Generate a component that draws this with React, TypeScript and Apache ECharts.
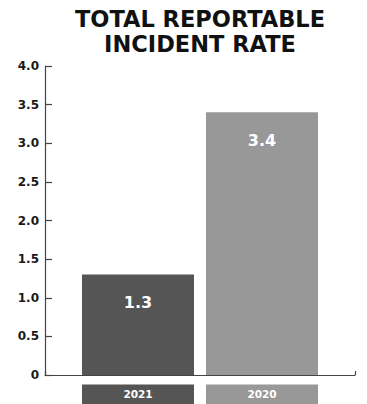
import React, { useEffect, useRef } from "react";
import * as echarts from "echarts";

const titleLines = ["TOTAL REPORTABLE", "INCIDENT RATE"];
const categories = ["2021", "2020"];
const values = [1.3, 3.4];
const barColors = ["#555555", "#989898"];
const yTicks = [0, 0.5, 1.0, 1.5, 2.0, 2.5, 3.0, 3.5, 4.0];

const FONT = "'DejaVu Sans', sans-serif";

export default function App() {
  const ref = useRef<HTMLDivElement>(null);
  useEffect(() => {
    if (!ref.current) return;
    const chart = echarts.init(ref.current, undefined, { renderer: "svg" });
    const yMin = yTicks[0];
    const yMax = yTicks[yTicks.length - 1];
    const yInterval = yTicks[1] - yTicks[0];
    chart.setOption({
      animation: false,
      backgroundColor: "#ffffff",
      graphic: [
        {
          type: "text",
          x: 200,
          y: 6,
          style: {
            text: titleLines.join("\n"),
            textAlign: "center",
            textVerticalAlign: "top",
            fontFamily: FONT,
            fontWeight: "bold",
            fontSize: 22.5,
            lineHeight: 25,
            fill: "#111111",
          },
        },
      ],
      grid: [
        { left: 45, right: 12, top: 66, bottom: 29, outerBoundsMode: "none" },
        { left: 76, right: 43, top: 66, bottom: 29, outerBoundsMode: "none" },
      ],
      xAxis: [
        {
          type: "value",
          gridIndex: 0,
          min: 0,
          max: 1,
          interval: 1,
          axisLine: { show: true, lineStyle: { color: "#444444", width: 1.2 } },
          axisTick: { show: true, inside: true, length: 4, lineStyle: { color: "#444444", width: 1.2 } },
          axisLabel: { show: false },
          splitLine: { show: false },
        },
        {
          type: "category",
          gridIndex: 1,
          data: categories,
          axisLine: { show: false },
          axisTick: { show: false },
          axisLabel: {
            margin: 14,
            formatter: (v: string) => `{c${categories.indexOf(v)}|${v}}`,
            rich: Object.fromEntries(
              categories.map((c, i) => [
                `c${i}`,
                {
                  backgroundColor: barColors[i],
                  width: 112,
                  align: "center",
                  padding: [4, 0, 8, 0],
                  lineHeight: 14,
                  color: "#ffffff",
                  fontFamily: FONT,
                  fontWeight: "bold",
                  fontSize: 10.5,
                },
              ])
            ),
          },
        },
      ],
      yAxis: [
        {
          type: "value",
          gridIndex: 0,
          min: yMin,
          max: yMax,
          interval: yInterval,
          axisLine: { show: true, lineStyle: { color: "#444444", width: 1.2 } },
          axisTick: { show: true, inside: true, length: 7, lineStyle: { color: "#444444", width: 1.2 } },
          axisLabel: {
            margin: 6,
            color: "#1a1a1a",
            fontFamily: FONT,
            fontWeight: "bold",
            fontSize: 12,
            formatter: (v: number) => (v === 0 ? "0" : v.toFixed(1)),
          },
          splitLine: { show: false },
        },
        {
          type: "value",
          gridIndex: 1,
          min: yMin,
          max: yMax,
          interval: yInterval,
          show: false,
          splitLine: { show: false },
        },
      ],
      series: [
        {
          type: "bar",
          xAxisIndex: 1,
          yAxisIndex: 1,
          barWidth: 112,
          data: values.map((v, i) => ({ value: v, itemStyle: { color: barColors[i] } })),
          label: {
            show: true,
            position: "insideTop",
            distance: 20,
            color: "#ffffff",
            fontFamily: FONT,
            fontWeight: "bold",
            fontSize: 16,
            formatter: (p: any) => p.value.toFixed(1),
          },
        },
      ],
    });
    return () => chart.dispose();
  }, []);
  return (
    <div
      ref={ref}
      style={{ position: "fixed", left: 0, top: 0, width: 367, height: 404 }}
    />
  );
}
